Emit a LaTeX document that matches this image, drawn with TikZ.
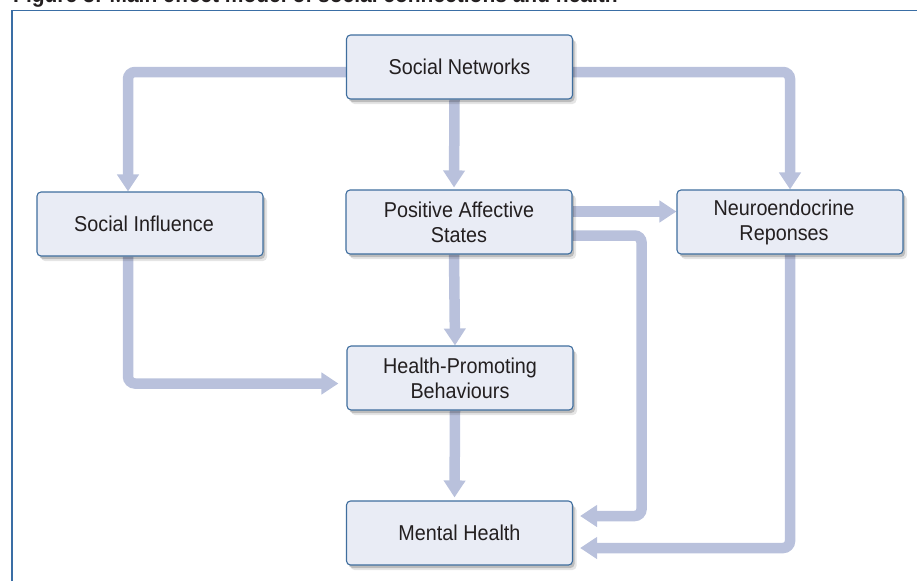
\documentclass[tikz,border=0pt]{standalone}
\usepackage{fontspec}
\setmainfont{Liberation Sans}[FakeStretch=0.92]
\usetikzlibrary{arrows.meta,shadows}
\definecolor{boxfill}{HTML}{E9ECF5}
\definecolor{boxline}{HTML}{3F6E9E}
\definecolor{arrcol}{HTML}{B9C1DC}
\definecolor{framecol}{HTML}{3A6EA5}
\definecolor{txt}{HTML}{231F20}
\pgfdeclarelayer{bg}
\pgfsetlayers{bg,main}
\tikzset{
  boxnode/.style={draw=boxline, line width=1.1pt, fill=boxfill, rounded corners=4pt,
    minimum width=226pt, minimum height=64pt, inner sep=0pt, align=center,
    text=txt, font=\fontsize{21.5}{25}\selectfont,
    drop shadow={shadow xshift=2pt, shadow yshift=-3pt, opacity=.18, fill=black},
    drop shadow={shadow xshift=4pt, shadow yshift=-5pt, opacity=.10, fill=black}},
  arr/.style={draw=arrcol, line width=10.5pt, rounded corners=7pt,
    -{Triangle[width=21pt,length=17pt]}},
  framel/.style={draw=framecol, line width=1.3pt}
}
\begin{document}
\begin{tikzpicture}[x=1pt,y=-1pt]
\useasboundingbox (0,0) rectangle (917,581);
\clip (0,0) rectangle (917,581);
\node[anchor=base west, text=txt, inner sep=0pt, font=\bfseries\fontsize{22.8}{26}\selectfont] (title) at (13,2.5) {Figure 3: Main effect model of social connections and health};
\draw[framel] (12,581) -- (12,10.3) -- (917,10.3);
% boxes
\node[boxnode] (SN)  at (459.5,67) {Social Networks};
\node[boxnode] (PAS) at (459,222)  {Positive Affective\\States};
\node[boxnode] (NR)  at (790,222)  {Neuroendocrine\hspace*{12pt}\\Reponses\hspace*{12pt}};
\node[boxnode] (SI)  at (150,224)  {Social Influence\hspace*{12pt}};
\node[boxnode] (HPB) at (460,378)  {Health-Promoting\\Behaviours};
\node[boxnode] (MH)  at (459.5,533) {Mental Health};
% connectors
\begin{pgfonlayer}{bg}
\draw[arr] ([yshift=-5pt]SN.west) -| ([xshift=-22pt]SI.north);
\draw[arr] ([yshift=-5pt]SN.east) -| (NR.north);
\draw[arr, shorten >=2pt] ([xshift=-5pt]SN.south) -- ([xshift=-5pt]PAS.north);
\draw[arr] ([yshift=10.5pt]PAS.east) -- ([yshift=10.5pt]NR.west);
\draw[arr, shorten >=7pt] ([yshift=-13.5pt]PAS.east) -- ++(69,0) |- ([yshift=17pt]MH.east);
\draw[arr, shorten >=7pt] (NR.south) |- ([yshift=-15pt]MH.east);
\draw[arr] ([xshift=-5pt]PAS.south) -- ([xshift=-5pt]HPB.north);
\draw[arr, shorten >=8pt] ([xshift=-22pt]SI.south) |- ([yshift=-5.5pt]HPB.west);
\draw[arr, shorten >=3pt] ([xshift=-5pt]HPB.south) -- ([xshift=-5pt]MH.north);
\end{pgfonlayer}
\end{tikzpicture}
\end{document}
